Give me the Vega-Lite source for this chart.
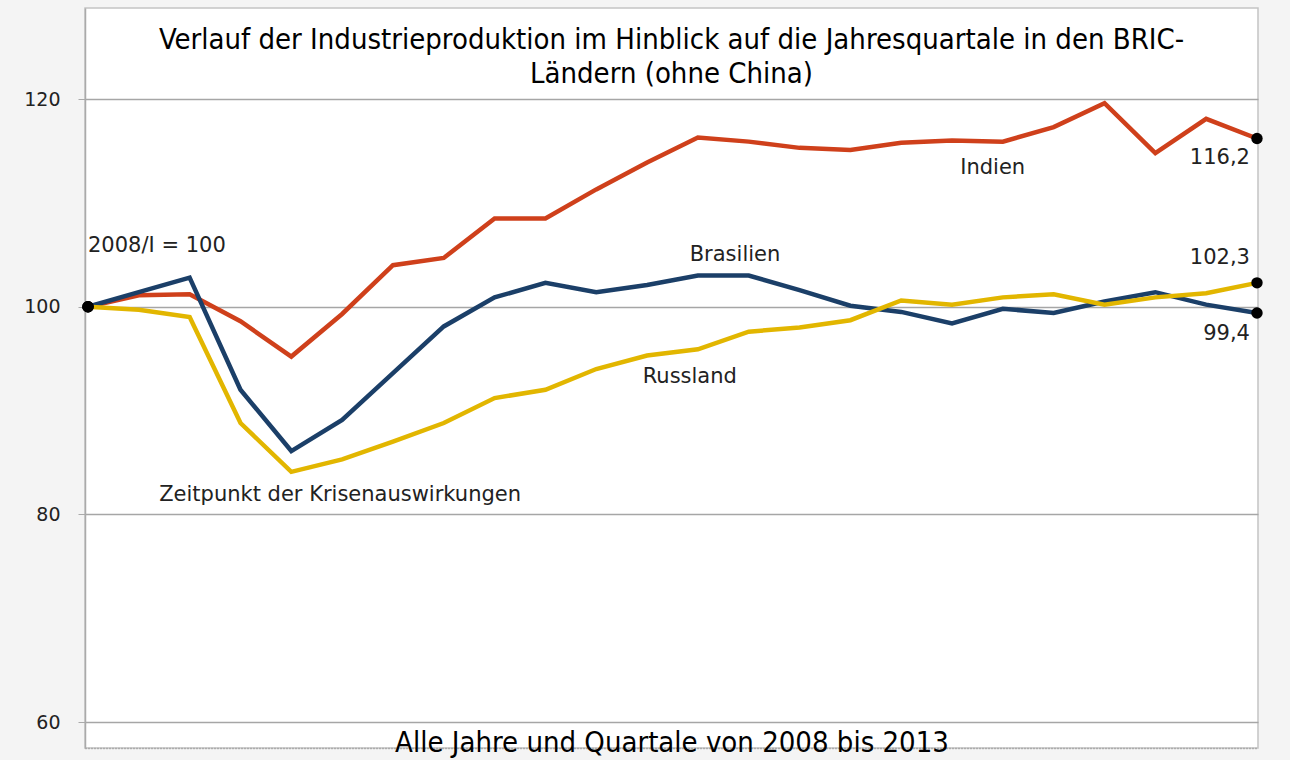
{
  "$schema": "https://vega.github.io/schema/vega-lite/v6.json",
  "width": 1173,
  "height": 740,
  "autosize": {"type": "none"},
  "padding": {"left": 85, "top": 8, "right": 32, "bottom": 12},
  "background": "#f4f4f4",
  "config": {
    "view": {"fill": "white", "stroke": "#c4c4c4", "strokeWidth": 1.5},
    "locale": {"number": {"decimal": ",", "thousands": ".", "grouping": [3], "currency": ["", " €"]}},
    "text": {"font": "DejaVu Sans", "fontSize": 21, "color": "#222"}
  },
  "title": {
    "text": ["Verlauf der Industrieproduktion im Hinblick auf die Jahresquartale in den BRIC-", "Ländern (ohne China)"],
    "font": "DejaVu Sans Condensed",
    "fontSize": 29,
    "fontWeight": "normal",
    "color": "#000",
    "anchor": "middle",
    "frame": "group",
    "baseline": "top",
    "lineHeight": 34,
    "offset": -81
  },
  "datasets": {
    "produktion": [
      {"quartal": "2008/I", "nr": 1, "land": "Indien", "wert": 100},
      {"quartal": "2008/II", "nr": 2, "land": "Indien", "wert": 101.1},
      {"quartal": "2008/III", "nr": 3, "land": "Indien", "wert": 101.2},
      {"quartal": "2008/IV", "nr": 4, "land": "Indien", "wert": 98.6},
      {"quartal": "2009/I", "nr": 5, "land": "Indien", "wert": 95.2},
      {"quartal": "2009/II", "nr": 6, "land": "Indien", "wert": 99.3},
      {"quartal": "2009/III", "nr": 7, "land": "Indien", "wert": 104.0},
      {"quartal": "2009/IV", "nr": 8, "land": "Indien", "wert": 104.7},
      {"quartal": "2010/I", "nr": 9, "land": "Indien", "wert": 108.5},
      {"quartal": "2010/II", "nr": 10, "land": "Indien", "wert": 108.5},
      {"quartal": "2010/III", "nr": 11, "land": "Indien", "wert": 111.3},
      {"quartal": "2010/IV", "nr": 12, "land": "Indien", "wert": 113.9},
      {"quartal": "2011/I", "nr": 13, "land": "Indien", "wert": 116.3},
      {"quartal": "2011/II", "nr": 14, "land": "Indien", "wert": 115.9},
      {"quartal": "2011/III", "nr": 15, "land": "Indien", "wert": 115.3},
      {"quartal": "2011/IV", "nr": 16, "land": "Indien", "wert": 115.1},
      {"quartal": "2012/I", "nr": 17, "land": "Indien", "wert": 115.8},
      {"quartal": "2012/II", "nr": 18, "land": "Indien", "wert": 116.0},
      {"quartal": "2012/III", "nr": 19, "land": "Indien", "wert": 115.9},
      {"quartal": "2012/IV", "nr": 20, "land": "Indien", "wert": 117.3},
      {"quartal": "2013/I", "nr": 21, "land": "Indien", "wert": 119.6},
      {"quartal": "2013/II", "nr": 22, "land": "Indien", "wert": 114.8},
      {"quartal": "2013/III", "nr": 23, "land": "Indien", "wert": 118.1},
      {"quartal": "2013/IV", "nr": 24, "land": "Indien", "wert": 116.2},
      {"quartal": "2008/I", "nr": 1, "land": "Brasilien", "wert": 100},
      {"quartal": "2008/II", "nr": 2, "land": "Brasilien", "wert": 101.4},
      {"quartal": "2008/III", "nr": 3, "land": "Brasilien", "wert": 102.8},
      {"quartal": "2008/IV", "nr": 4, "land": "Brasilien", "wert": 92.0},
      {"quartal": "2009/I", "nr": 5, "land": "Brasilien", "wert": 86.1},
      {"quartal": "2009/II", "nr": 6, "land": "Brasilien", "wert": 89.1},
      {"quartal": "2009/III", "nr": 7, "land": "Brasilien", "wert": 93.6},
      {"quartal": "2009/IV", "nr": 8, "land": "Brasilien", "wert": 98.1},
      {"quartal": "2010/I", "nr": 9, "land": "Brasilien", "wert": 100.9},
      {"quartal": "2010/II", "nr": 10, "land": "Brasilien", "wert": 102.3},
      {"quartal": "2010/III", "nr": 11, "land": "Brasilien", "wert": 101.4},
      {"quartal": "2010/IV", "nr": 12, "land": "Brasilien", "wert": 102.1},
      {"quartal": "2011/I", "nr": 13, "land": "Brasilien", "wert": 103.0},
      {"quartal": "2011/II", "nr": 14, "land": "Brasilien", "wert": 103.0},
      {"quartal": "2011/III", "nr": 15, "land": "Brasilien", "wert": 101.6},
      {"quartal": "2011/IV", "nr": 16, "land": "Brasilien", "wert": 100.1},
      {"quartal": "2012/I", "nr": 17, "land": "Brasilien", "wert": 99.5},
      {"quartal": "2012/II", "nr": 18, "land": "Brasilien", "wert": 98.4},
      {"quartal": "2012/III", "nr": 19, "land": "Brasilien", "wert": 99.8},
      {"quartal": "2012/IV", "nr": 20, "land": "Brasilien", "wert": 99.4},
      {"quartal": "2013/I", "nr": 21, "land": "Brasilien", "wert": 100.5},
      {"quartal": "2013/II", "nr": 22, "land": "Brasilien", "wert": 101.4},
      {"quartal": "2013/III", "nr": 23, "land": "Brasilien", "wert": 100.2},
      {"quartal": "2013/IV", "nr": 24, "land": "Brasilien", "wert": 99.4},
      {"quartal": "2008/I", "nr": 1, "land": "Russland", "wert": 100},
      {"quartal": "2008/II", "nr": 2, "land": "Russland", "wert": 99.7},
      {"quartal": "2008/III", "nr": 3, "land": "Russland", "wert": 99.0},
      {"quartal": "2008/IV", "nr": 4, "land": "Russland", "wert": 88.8},
      {"quartal": "2009/I", "nr": 5, "land": "Russland", "wert": 84.1},
      {"quartal": "2009/II", "nr": 6, "land": "Russland", "wert": 85.3},
      {"quartal": "2009/III", "nr": 7, "land": "Russland", "wert": 87.0},
      {"quartal": "2009/IV", "nr": 8, "land": "Russland", "wert": 88.8},
      {"quartal": "2010/I", "nr": 9, "land": "Russland", "wert": 91.2},
      {"quartal": "2010/II", "nr": 10, "land": "Russland", "wert": 92.0},
      {"quartal": "2010/III", "nr": 11, "land": "Russland", "wert": 94.0},
      {"quartal": "2010/IV", "nr": 12, "land": "Russland", "wert": 95.3},
      {"quartal": "2011/I", "nr": 13, "land": "Russland", "wert": 95.9},
      {"quartal": "2011/II", "nr": 14, "land": "Russland", "wert": 97.6},
      {"quartal": "2011/III", "nr": 15, "land": "Russland", "wert": 98.0},
      {"quartal": "2011/IV", "nr": 16, "land": "Russland", "wert": 98.7},
      {"quartal": "2012/I", "nr": 17, "land": "Russland", "wert": 100.6},
      {"quartal": "2012/II", "nr": 18, "land": "Russland", "wert": 100.2},
      {"quartal": "2012/III", "nr": 19, "land": "Russland", "wert": 100.9},
      {"quartal": "2012/IV", "nr": 20, "land": "Russland", "wert": 101.2},
      {"quartal": "2013/I", "nr": 21, "land": "Russland", "wert": 100.2},
      {"quartal": "2013/II", "nr": 22, "land": "Russland", "wert": 100.9},
      {"quartal": "2013/III", "nr": 23, "land": "Russland", "wert": 101.3},
      {"quartal": "2013/IV", "nr": 24, "land": "Russland", "wert": 102.3}
    ],
    "beschriftung": [
      {"text": "2008/I = 100", "nr": 1, "wert": 105.8, "ausrichtung": "left"},
      {"text": "Brasilien", "nr": 13.73, "wert": 105.0, "ausrichtung": "center"},
      {"text": "Indien", "nr": 18.8, "wert": 113.4, "ausrichtung": "center"},
      {"text": "Russland", "nr": 12.84, "wert": 93.2, "ausrichtung": "center"},
      {"text": "Zeitpunkt der Krisenauswirkungen", "nr": 5.96, "wert": 81.9, "ausrichtung": "center"}
    ]
  },
  "data": {"name": "produktion"},
  "encoding": {
    "x": {
      "field": "nr",
      "type": "quantitative",
      "scale": {"domain": [0.941, 24.02], "nice": false, "zero": false},
      "axis": {
        "title": "Alle Jahre und Quartale von 2008 bis 2013",
        "titleFont": "DejaVu Sans Condensed",
        "titleFontSize": 29,
        "titleFontWeight": "normal",
        "titleColor": "#000",
        "titleBaseline": "middle",
        "titleY": -6,
        "labels": false,
        "ticks": false,
        "grid": false,
        "domainColor": "#888",
        "domainDash": [1, 2],
        "domainWidth": 1.5
      }
    },
    "y": {
      "field": "wert",
      "type": "quantitative",
      "scale": {"domain": [57.5, 128.77], "nice": false, "zero": false},
      "axis": {
        "title": null,
        "values": [60, 80, 100, 120],
        "labelFont": "DejaVu Sans",
        "labelFontSize": 19,
        "labelColor": "#222",
        "labelPadding": 18,
        "tickSize": 7,
        "tickColor": "#aaa",
        "gridColor": "#a6a6a6",
        "gridWidth": 1.5,
        "domainColor": "#aaa",
        "domainWidth": 1.5
      }
    }
  },
  "layer": [
    {
      "mark": {"type": "line", "strokeWidth": 4.5, "strokeJoin": "miter"},
      "encoding": {
        "color": {
          "field": "land",
          "type": "nominal",
          "scale": {"domain": ["Russland", "Brasilien", "Indien"], "range": ["#e2b600", "#1b3f68", "#cf401b"]},
          "legend": null
        }
      }
    },
    {
      "transform": [{"filter": "datum.nr == 1 || datum.nr == 24"}],
      "mark": {"type": "circle", "size": 130, "color": "#000", "opacity": 1}
    },
    {
      "data": {"name": "beschriftung"},
      "transform": [{"filter": "datum.ausrichtung == 'left'"}],
      "mark": {"type": "text", "align": "left", "baseline": "middle"},
      "encoding": {"text": {"field": "text", "type": "nominal"}}
    },
    {
      "data": {"name": "beschriftung"},
      "transform": [{"filter": "datum.ausrichtung == 'center'"}],
      "mark": {"type": "text", "align": "center", "baseline": "middle"},
      "encoding": {"text": {"field": "text", "type": "nominal"}}
    },
    {
      "transform": [{"filter": "datum.nr == 24 && datum.land == 'Indien'"}],
      "mark": {"type": "text", "align": "right", "baseline": "middle", "dx": -7, "dy": 19},
      "encoding": {"text": {"field": "wert", "type": "quantitative", "format": ".1f"}}
    },
    {
      "transform": [{"filter": "datum.nr == 24 && datum.land == 'Russland'"}],
      "mark": {"type": "text", "align": "right", "baseline": "middle", "dx": -7, "dy": -25},
      "encoding": {"text": {"field": "wert", "type": "quantitative", "format": ".1f"}}
    },
    {
      "transform": [{"filter": "datum.nr == 24 && datum.land == 'Brasilien'"}],
      "mark": {"type": "text", "align": "right", "baseline": "middle", "dx": -7, "dy": 21},
      "encoding": {"text": {"field": "wert", "type": "quantitative", "format": ".1f"}}
    }
  ]
}
